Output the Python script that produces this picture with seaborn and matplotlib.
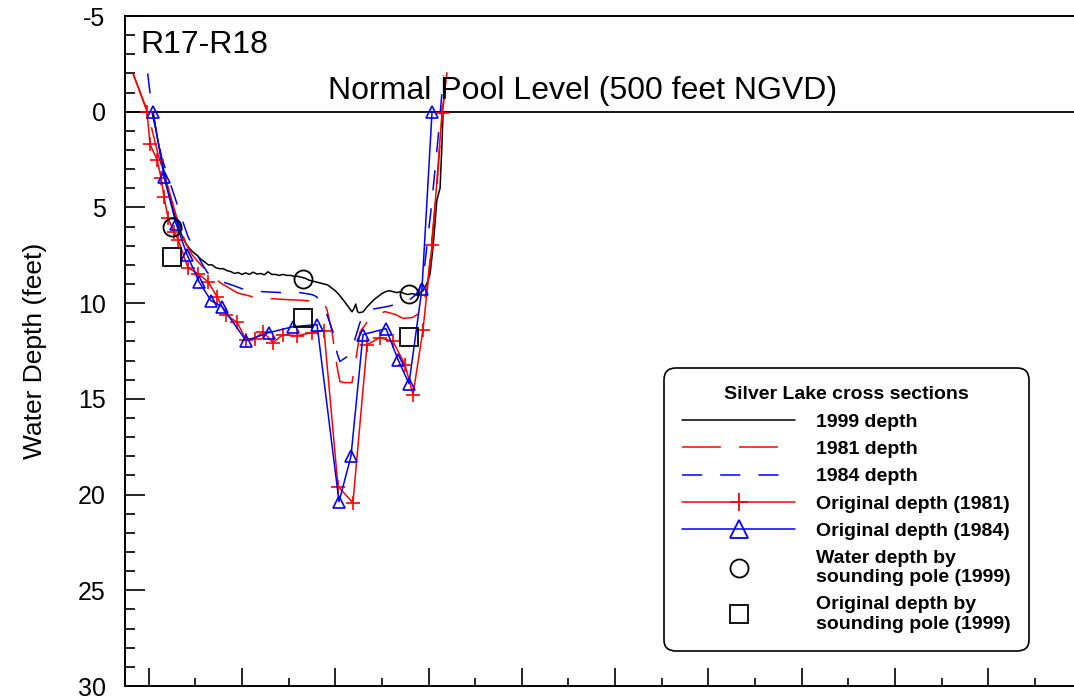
import matplotlib
matplotlib.use("Agg")
import matplotlib.pyplot as plt
import seaborn as sns
from matplotlib.lines import Line2D
from matplotlib.ticker import MultipleLocator, NullFormatter

# ---------------- data (station in feet, depth in feet below normal pool) ----------------
d99_x = [3.6, 8, 12, 16, 20, 24, 28, 32, 36, 40, 44, 48, 52, 56, 60, 64, 68, 72, 76, 80,
         84, 88, 92, 96, 100, 104, 108, 112, 116, 120, 124, 128, 132, 136, 140, 144, 148,
         152, 156, 160, 164, 168, 172, 176, 180, 184, 188, 192, 196, 200, 204, 208, 212,
         215, 218, 220, 222, 224, 226, 230, 234, 238, 242, 246, 250, 254, 258, 262, 266,
         270, 274, 278, 282, 286, 290, 294, 298, 301.6, 305, 309, 312.4, 314.5, 315.6]
d99_y = [0.0, 1.0, 2.0, 3.0, 3.9, 4.7, 5.4, 6.0, 6.5, 6.9, 7.15, 7.35, 7.5, 7.7, 7.85, 8.0,
         8.0, 8.15, 8.2, 8.2, 8.3, 8.35, 8.45, 8.4, 8.5, 8.42, 8.5, 8.38, 8.48, 8.45, 8.52,
         8.36, 8.5, 8.5, 8.55, 8.5, 8.55, 8.55, 8.6, 8.6, 8.65, 8.7, 8.8, 8.85, 8.9, 8.95,
         9.0, 9.05, 9.2, 9.35, 9.55, 9.8, 10.05, 10.25, 10.45, 10.3, 10.05, 10.45, 10.5,
         10.45, 10.2, 10.0, 9.8, 9.65, 9.5, 9.4, 9.35, 9.4, 9.45, 9.4, 9.5, 9.55, 9.5, 9.55,
         9.5, 9.35, 9.0, 8.5, 7.0, 4.6, 4.0, 1.6, 0.0]

d81_x = [-16.7, -1.0, 10, 20, 30, 40, 47, 56, 66, 76.7, 86, 94.7, 98, 106, 114, 125, 133,
         150, 165, 175, 183, 188, 191.2, 196.6, 201.9, 205.1, 210, 218, 222, 226.6, 234.1,
         245, 253.4, 265, 272.7, 283, 291, 295, 299, 303, 309, 315, 320]
d81_y = [-2.0, 0.0, 2.2, 3.8, 5.5, 6.9, 7.5, 8.0, 8.5, 8.93, 9.2, 9.45, 9.5, 9.6, 9.7, 9.75,
         9.77, 9.82, 9.85, 9.9, 9.92, 10.0, 10.34, 11.5, 13.3, 14.1, 14.15, 14.15, 13.0,
         11.5, 11.0, 10.6, 10.44, 10.6, 10.8, 10.75, 10.5, 10.0, 9.0, 7.0, 3.9, 0.0, -2.0]

d84_x = [-1.0, 1.5, 7, 14, 27, 35, 42, 50, 58, 63, 70, 80, 92, 103, 122, 143, 162, 175, 180,
         189, 197.6, 202, 205, 212.6, 217, 221, 226.6, 237.3, 255.5, 270, 277, 283, 290,
         296, 303, 310, 316]
d84_y = [-2.0, -1.0, 0.7, 2.4, 4.3, 5.5, 6.5, 7.3, 8.0, 8.4, 8.7, 8.9, 9.1, 9.3, 9.4, 9.45,
         9.45, 9.55, 9.66, 10.3, 11.5, 12.6, 13.05, 12.8, 12.5, 11.9, 11.0, 10.34, 10.18,
         10.0, 9.92, 9.7, 9.4, 8.0, 5.0, 1.5, -1.9]

orig81_x = [-16.7, -1.7, 1.5, 9.0, 13.3, 16.5, 20.8, 27.2, 31.6, 42.2, 52.9, 63.7, 73.3, 83.0,
            94.7, 104.4, 114.0, 122.6, 133.3, 144.0, 159.1, 175.1, 188.0, 203.0, 219.0,
            234.1, 248.0, 261.9, 274.8, 283.4, 294.1, 303.8, 314.5, 319.8]
orig81_y = [-2.0, 0.0, 1.7, 2.5, 3.45, 4.44, 5.54, 6.27, 6.68, 8.15, 8.46, 8.88, 9.66, 10.6,
            11.0, 11.9, 11.85, 11.49, 12.06, 11.64, 11.7, 11.54, 11.44, 19.58, 20.42, 12.17,
            11.8, 12.0, 13.21, 14.78, 11.38, 6.95, 0.05, -2.04]

orig84_x = [4.7, 16.5, 29.4, 41.2, 54.0, 66.9, 78.7, 104.4, 129.0, 154.8, 180.5, 204.1, 216.9,
            229.8, 254.4, 267.3, 279.1, 293.0, 303.8]
orig84_y = [0.0, 3.39, 5.85, 7.47, 8.88, 9.87, 10.18, 11.96, 11.54, 11.23, 11.12, 20.37, 18.0,
            11.64, 11.33, 12.95, 14.2, 9.24, 0.0]

pole_x = [24.8, 165.8, 279.4]
pole_water_y = [6.0, 8.72, 9.5]
pole_orig_y = [7.57, 10.78, 11.79]

legend_labels = ["1999 depth", "1981 depth", "1984 depth", "Original depth (1981)",
                 "Original depth (1984)", "Water depth by\nsounding pole (1999)",
                 "Original depth by\nsounding pole (1999)"]

# ---------------- style ----------------
sns.set_theme(style="ticks")
plt.rcParams["font.family"] = ["Liberation Sans", "DejaVu Sans"]
plt.rcParams["lines.scale_dashes"] = False
plt.rcParams["axes.unicode_minus"] = False
for k in ["text.color", "axes.labelcolor", "xtick.color", "ytick.color", "axes.edgecolor"]:
    plt.rcParams[k] = "black"

RED = "#ff0000"
BLUE = "#0000ff"
LW = 1.1
DASH81 = (0, (28, 13))
DASH84 = (0, (14.5, 13))

fig = plt.figure(figsize=(10.74, 6.98), dpi=100)
ax = fig.add_axes([125 / 1074, 12 / 698, (1090 - 125) / 1074, 670 / 698])

common = dict(ax=ax, sort=False, estimator=None, errorbar=None, legend=False)

sns.lineplot(x=d99_x, y=d99_y, color="black", lw=LW, **common)
sns.lineplot(x=d81_x, y=d81_y, color=RED, lw=LW, linestyle=DASH81, **common)
sns.lineplot(x=d84_x, y=d84_y, color=BLUE, lw=LW, linestyle=DASH84, **common)
sns.lineplot(x=orig81_x, y=orig81_y, color=RED, lw=LW, marker="+", markersize=9.5,
             markeredgecolor=RED, markeredgewidth=1.2, markevery=slice(1, -1), **common)
sns.lineplot(x=orig84_x, y=orig84_y, color=BLUE, lw=LW, marker="^", markersize=8.5,
             markerfacecolor="none", markeredgecolor=BLUE, markeredgewidth=1.2, **common)
sns.lineplot(x=pole_x, y=pole_water_y, color="black", linestyle="", marker="o",
             markersize=13, markerfacecolor="none", markeredgecolor="black",
             markeredgewidth=1.3, **common)
sns.lineplot(x=pole_x, y=pole_orig_y, color="black", linestyle="", marker="s",
             markersize=13, markerfacecolor="none", markeredgecolor="black",
             markeredgewidth=1.3, **common)

ax.axhline(0, color="black", lw=1.3, zorder=1)

ax.set_xlim(-25.3, 1009.0)
ax.set_ylim(30, -5)

ax.yaxis.set_major_locator(MultipleLocator(5))
ax.yaxis.set_minor_locator(MultipleLocator(1))
ax.xaxis.set_major_locator(MultipleLocator(100))
ax.xaxis.set_minor_locator(MultipleLocator(50))
ax.xaxis.set_major_formatter(NullFormatter())

ax.tick_params(axis="y", which="major", direction="in", length=14.4, width=1.2,
               labelsize=18, pad=14, left=True, right=False)
ax.tick_params(axis="y", which="minor", direction="in", length=7.2, width=1.2,
               left=True, right=False)
ax.tick_params(axis="x", which="major", direction="in", length=13, width=1.2,
               bottom=True, top=False, labelbottom=False)
ax.tick_params(axis="x", which="minor", direction="in", length=6, width=1.2,
               bottom=True, top=False)

for side in ["left", "bottom", "top", "right"]:
    ax.spines[side].set_linewidth(1.4)
    ax.spines[side].set_color("black")

ax.set_xlabel("")
ax.set_ylabel("Water Depth (feet)", fontsize=19, labelpad=22)

ax.text(-9.2, -3.07, "R17-R18", fontsize=23, ha="left", va="baseline")
ax.text(465.6, -0.65, "Normal Pool Level (500 feet NGVD)", fontsize=23,
        ha="center", va="baseline")

handles = [
    Line2D([], [], color="black", lw=LW),
    Line2D([], [], color=RED, lw=LW, linestyle=DASH81),
    Line2D([], [], color=BLUE, lw=LW, linestyle=DASH84),
    Line2D([], [], color=RED, lw=LW, marker="+", markersize=13, markeredgewidth=1.3),
    Line2D([], [], color=BLUE, lw=LW, marker="^", markersize=13, markerfacecolor="none",
           markeredgewidth=1.3),
    Line2D([], [], color="black", linestyle="", marker="o", markersize=13,
           markerfacecolor="none", markeredgewidth=1.3),
    Line2D([], [], color="black", linestyle="", marker="s", markersize=13,
           markerfacecolor="none", markeredgewidth=1.3),
]
leg = ax.legend(handles=handles, labels=legend_labels, title="Silver Lake cross sections",
                loc="upper left", bbox_to_anchor=(664 / 1074, 1 - 368 / 698),
                bbox_transform=fig.transFigure, borderaxespad=0,
                prop={"weight": "bold", "size": 14},
                title_fontproperties={"weight": "bold", "size": 14},
                handlelength=5.8, handletextpad=1.05, labelspacing=0.5, borderpad=0.95,
                numpoints=1, frameon=True, fancybox=True, framealpha=1, edgecolor="black")
frame = leg.get_frame()
frame.set_linewidth(1.2)
frame.set_boxstyle("round", pad=0, rounding_size=0.6)

fig.savefig("out.png", dpi=100)
